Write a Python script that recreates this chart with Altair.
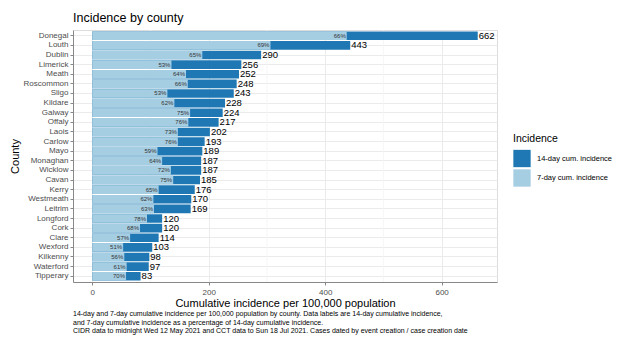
import altair as alt
import pandas as pd

counties = ["Donegal", "Louth", "Dublin", "Limerick", "Meath", "Roscommon", "Sligo",
            "Kildare", "Galway", "Offaly", "Laois", "Carlow", "Mayo", "Monaghan",
            "Wicklow", "Cavan", "Kerry", "Westmeath", "Leitrim", "Longford", "Cork",
            "Clare", "Wexford", "Kilkenny", "Waterford", "Tipperary"]
fourteen_day = [662, 443, 290, 256, 252, 248, 243, 228, 224, 217, 202, 193, 189, 187,
                187, 185, 176, 170, 169, 120, 120, 114, 103, 98, 97, 83]
seven_day = [437, 306, 189, 136, 161, 164, 129, 141, 168, 165, 147, 147, 112, 120,
             135, 139, 114, 105, 106, 94, 82, 65, 53, 55, 59, 58]
pct_labels = ["66%", "69%", "65%", "53%", "64%", "66%", "53%", "62%", "75%", "76%",
              "73%", "76%", "59%", "64%", "72%", "75%", "65%", "62%", "63%", "78%",
              "68%", "57%", "51%", "56%", "61%", "70%"]
series_names = ["14-day cum. incidence", "7-day cum. incidence"]
minor_grid = [100, 300, 500]
caption_lines = [
    "14-day and 7-day cumulative incidence per 100,000 population by county. Data labels are 14-day cumulative incidence,",
    "and 7-day cumulative incidence as a percentage of 14-day cumulative incidence.",
    "CIDR data to midnight Wed 12 May 2021 and CCT data to Sun 18 Jul 2021. Cases dated by event creation / case creation date",
]

W, H = 424, 252
FONT = "Liberation Sans"

long_rows = []
for c, v in zip(counties, fourteen_day):
    long_rows.append({"County": c, "value": v, "Incidence": series_names[0]})
for c, v in zip(counties, seven_day):
    long_rows.append({"County": c, "value": v, "Incidence": series_names[1]})
bars_df = pd.DataFrame(long_rows)

lab_df = pd.DataFrame({"County": counties, "fourteen": fourteen_day,
                       "seven": seven_day, "pct": pct_labels})
minor_df = pd.DataFrame({"x": minor_grid})

xscale = alt.Scale(domain=[-33.1, 695.1], nice=False, zero=False)
yscale = alt.Scale(paddingInner=0.1, paddingOuter=0.15)
ysort = counties

x_axis = alt.Axis(values=[0, 200, 400, 600], title="Cumulative incidence per 100,000 population",
                  grid=True, gridColor="#ebebeb", domainColor="#888888", tickColor="#888888",
                  tickSize=3, labelColor="#4d4d4d", labelFontSize=8, labelFont=FONT,
                  titleFont=FONT, titleFontSize=11, titleFontWeight="normal", titleColor="#000000",
                  titlePadding=1, labelPadding=3)
y_axis = alt.Axis(title="County", grid=True, gridColor="#ebebeb", bandPosition=0.5,
                  domainColor="#888888", tickColor="#888888", tickSize=3,
                  labelColor="#4d4d4d", labelFontSize=8, labelFont=FONT,
                  titleFont=FONT, titleFontSize=11, titleFontWeight="normal", titleColor="#000000",
                  titlePadding=3, labelPadding=2)

minor = alt.Chart(minor_df).mark_rule(color="#f4f4f4", strokeWidth=0.8).encode(
    x=alt.X("x:Q", scale=xscale, axis=x_axis)
)

bars = alt.Chart(bars_df).mark_bar().encode(
    x=alt.X("value:Q", scale=xscale, stack=None, axis=x_axis),
    y=alt.Y("County:N", sort=ysort, scale=yscale, axis=y_axis),
    color=alt.Color("Incidence:N", scale=alt.Scale(domain=series_names, range=["#1f78b4", "#a6cee3"]),
                    legend=alt.Legend(title="Incidence", orient="none", legendX=440, legendY=104,
                                      symbolType="square", symbolSize=300, symbolStrokeWidth=0,
                                      symbolOpacity=1, titleFont=FONT, titleFontSize=10.5,
                                      titleFontWeight="normal", titleColor="#000000",
                                      labelFont=FONT, labelFontSize=7.5, labelColor="#000000",
                                      rowPadding=1.5, titlePadding=5, labelOffset=6)),
)

pct_text = alt.Chart(lab_df).mark_text(align="right", baseline="middle", dx=-1, fontSize=6,
                                       font=FONT, color="#333333").encode(
    x=alt.X("seven:Q", scale=xscale),
    y=alt.Y("County:N", sort=ysort, scale=yscale),
    text="pct:N",
)
val_text = alt.Chart(lab_df).mark_text(align="left", baseline="middle", dx=1, fontSize=9.5,
                                       font=FONT, color="#000000").encode(
    x=alt.X("fourteen:Q", scale=xscale),
    y=alt.Y("County:N", sort=ysort, scale=yscale),
    text="fourteen:Q",
)

cap_layers = []
for i, line in enumerate(caption_lines):
    cap_layers.append(
        alt.Chart(pd.DataFrame({"line": [line]})).mark_text(
            align="left", baseline="middle", fontSize=7, font=FONT, color="#000000"
        ).encode(x=alt.value(0), y=alt.value(H + 32 + 8.7 * i), text="line:N")
    )

chart = alt.layer(minor, bars, pct_text, val_text, *cap_layers).properties(
    width=W, height=H,
    title=alt.TitleParams("Incidence by county", anchor="start", frame="group", font=FONT,
                          fontSize=12.5, fontWeight="normal", color="#000000", offset=5),
    autosize=alt.AutoSizeParams(type="none"),
    padding={"left": 73, "top": 30, "right": 133, "bottom": 68},
).configure_view(stroke=None).configure(background="white")

chart.save("out.html", embed_options={"renderer": "svg", "actions": False})
